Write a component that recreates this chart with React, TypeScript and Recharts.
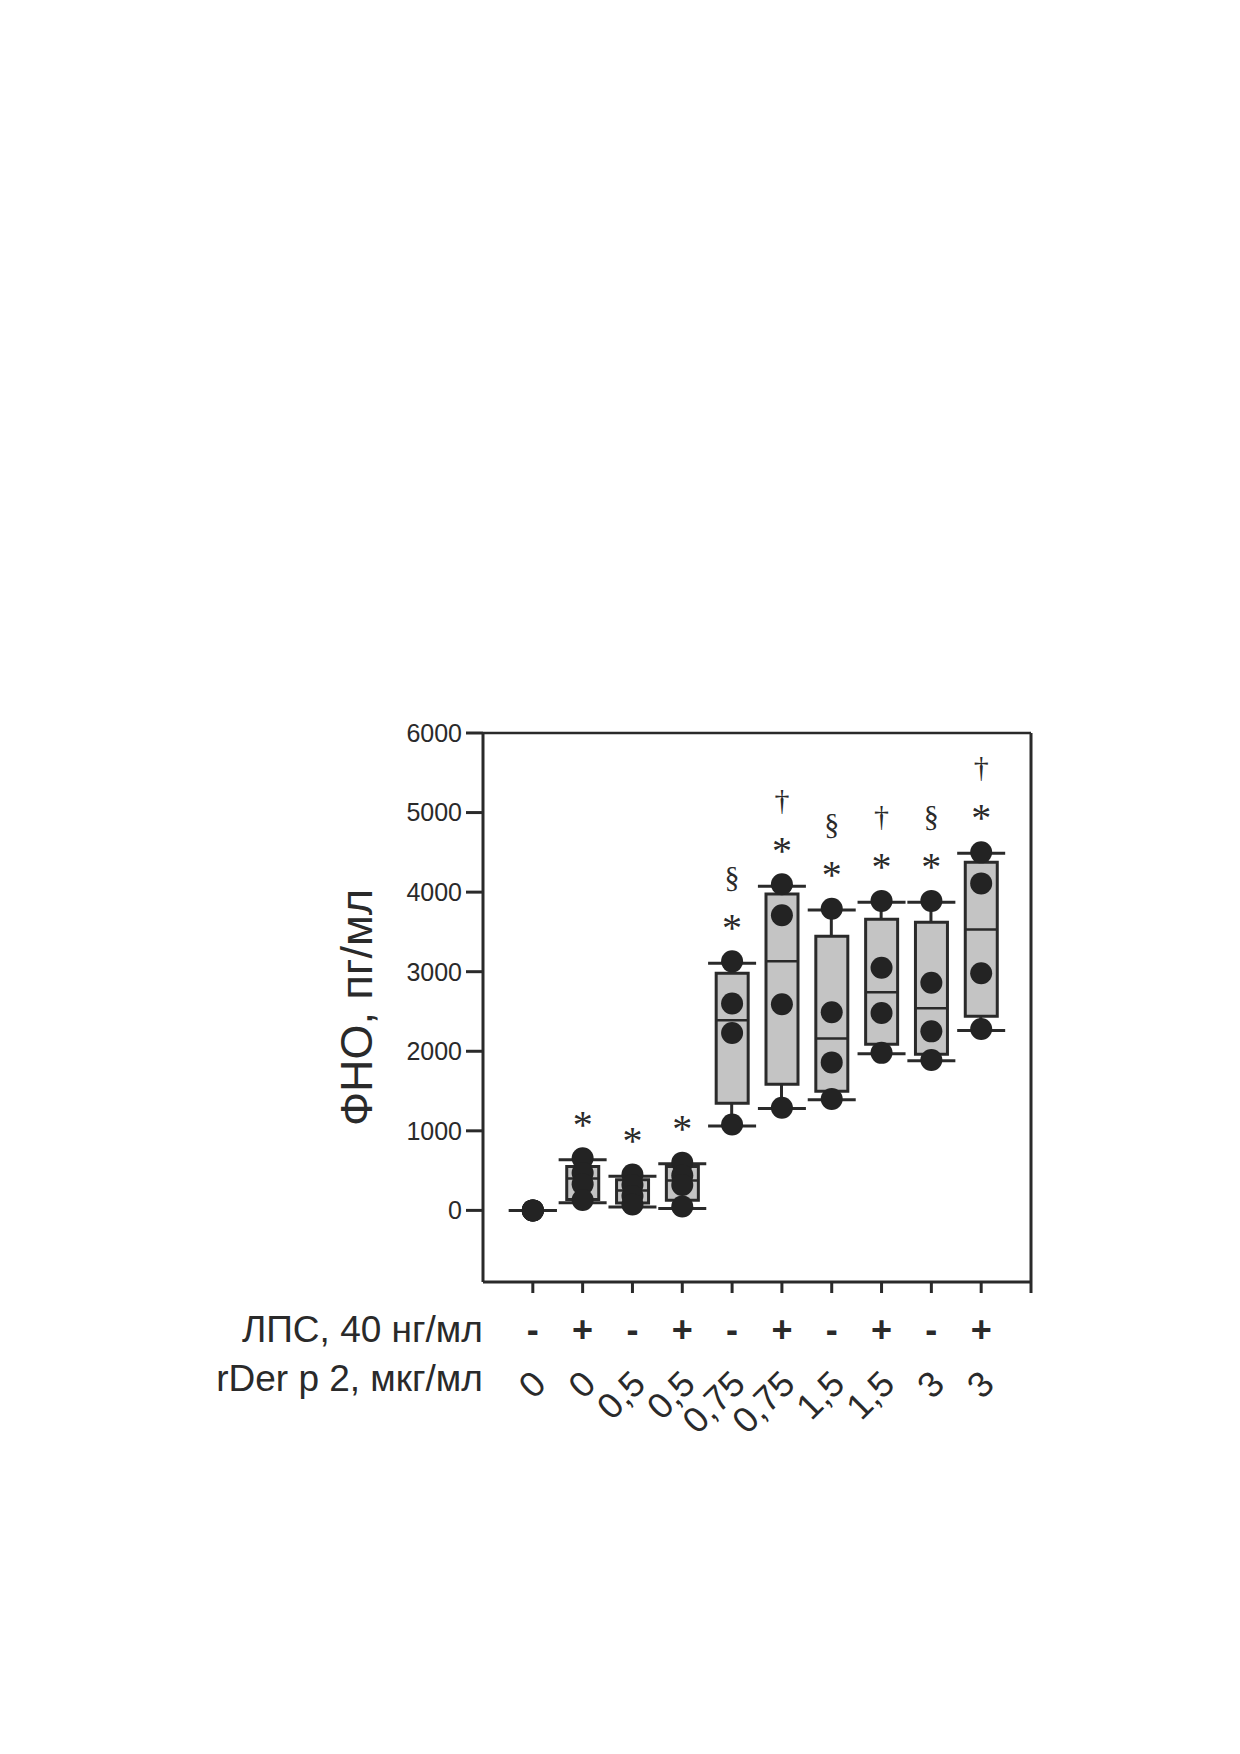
import React from "react";
import { ComposedChart, XAxis, YAxis, Bar, Scatter, ReferenceLine, Label } from "recharts";

// groups along the x axis
const groupPositions = [1, 2, 3, 4, 5, 6, 7, 8, 9, 10];
const lpsSigns = ["-", "+", "-", "+", "-", "+", "-", "+", "-", "+"];
const derDoses = ["0", "0", "0,5", "0,5", "0,75", "0,75", "1,5", "1,5", "3", "3"];

// box stats, pg/ml
const mins = [0, 97, 42, 25, 1060, 1280, 1390, 1970, 1880, 2260];
const q1s = [0, 138, 92, 126, 1346, 1585, 1497, 2088, 1962, 2440];
const medians = [0, 400, 250, 377, 2390, 3130, 2160, 2742, 2540, 3530];
const q3s = [0, 553, 386, 553, 2981, 3975, 3447, 3660, 3623, 4377];
const maxs = [0, 638, 428, 587, 3107, 4075, 3774, 3874, 3874, 4490];

// individual donors
const dotValues = [
  [0, 0, 0, 0],
  [655, 470, 330, 130],
  [450, 320, 180, 75],
  [600, 440, 320, 50],
  [3130, 2600, 2230, 1080],
  [4100, 3710, 2590, 1290],
  [3790, 2490, 1860, 1400],
  [3890, 3050, 2480, 1980],
  [3890, 2860, 2250, 1890],
  [4500, 4110, 2980, 2280],
];

const starMarks = ["", "*", "*", "*", "*", "*", "*", "*", "*", "*"];
const topMarks = ["", "", "", "", "§", "†", "§", "†", "§", "†"];

const yTicks = [0, 1000, 2000, 3000, 4000, 5000, 6000];
const xTicks = [1, 2, 3, 4, 5, 6, 7, 8, 9, 10, 11];

const INK = "#2a2a2a";
const BOX_FILL = "#c4c4c4";
const SANS = "'Liberation Sans', Arial, sans-serif";
const SERIF = "'Liberation Serif', 'Times New Roman', serif";

const boxData = groupPositions.map((pos, i) => ({
  pos,
  min: mins[i],
  q1: q1s[i],
  median: medians[i],
  q3: q3s[i],
  max: maxs[i],
  star: starMarks[i],
  mark: topMarks[i],
}));

const dotData = dotValues.flatMap((vals, i) =>
  vals.map((value) => ({ pos: groupPositions[i], value }))
);

const CapShape = (props: any) => {
  const { cx, cy } = props;
  return <line x1={cx - 24} x2={cx + 24} y1={cy} y2={cy} stroke={INK} strokeWidth={3} />;
};

const TopCapShape = (props: any) => {
  const { cx, cy, payload } = props;
  return (
    <g>
      <line x1={cx - 24} x2={cx + 24} y1={cy} y2={cy} stroke={INK} strokeWidth={3} />
      {payload.star ? (
        <text x={cx} y={cy - 22} textAnchor="middle" fontFamily={SERIF} fontSize={40} fill={INK}>
          {payload.star}
        </text>
      ) : null}
      {payload.mark ? (
        <text x={cx} y={cy - 76} textAnchor="middle" fontFamily={SERIF} fontSize={30} fill={INK}>
          {payload.mark}
        </text>
      ) : null}
    </g>
  );
};

const MedianShape = (props: any) => {
  const { cx, cy } = props;
  return <line x1={cx - 16} x2={cx + 16} y1={cy} y2={cy} stroke={INK} strokeWidth={2.5} />;
};

const DotShape = (props: any) => {
  const { cx, cy } = props;
  return <circle cx={cx} cy={cy} r={11} fill="#232323" />;
};

const DoseTick = (props: any) => {
  const { x, y, payload } = props;
  const i = groupPositions.indexOf(payload.value);
  if (i < 0) return null;
  return (
    <g fontFamily={SANS} fill={INK}>
      {i === 0 && (
        <>
          <text x={x - 50} y={y + 49} textAnchor="end" fontSize={37}>
            ЛПС, 40 нг/мл
          </text>
          <text x={x - 50} y={y + 98} textAnchor="end" fontSize={37}>
            rDer p 2, мкг/мл
          </text>
        </>
      )}
      <text x={x} y={y + 49} textAnchor="middle" fontSize={36} fontWeight="bold">
        {lpsSigns[i]}
      </text>
      <text
        x={x + 15}
        y={y + 93}
        textAnchor="end"
        fontSize={36}
        transform={`rotate(-45 ${x + 15} ${y + 93})`}
      >
        {derDoses[i]}
      </text>
    </g>
  );
};

const YTitle = (props: any) => {
  const vb = props.viewBox || {};
  const bx = vb.x + vb.width - 111;
  const cy = vb.y + vb.height / 2;
  return (
    <text
      x={bx}
      y={cy}
      textAnchor="middle"
      fontFamily={SANS}
      fontSize={45}
      fill={INK}
      transform={`rotate(-90 ${bx} ${cy})`}
    >
      ФНО, пг/мл
    </text>
  );
};

export default function App() {
  return (
    <div style={{ position: "absolute", left: 0, top: 0 }}>
      <ComposedChart
        width={1240}
        height={1500}
        data={boxData}
        margin={{ top: 733, right: 209, bottom: 58, left: 343 }}
      >
        <XAxis
          xAxisId="main"
          dataKey="pos"
          type="number"
          domain={[0, 11]}
          ticks={xTicks}
          allowDataOverflow
          interval={0}
          height={160}
          tickSize={11}
          tickMargin={0}
          axisLine={{ stroke: INK, strokeWidth: 3 }}
          tickLine={{ stroke: INK, strokeWidth: 3 }}
          tick={<DoseTick />}
        />
        <XAxis
          xAxisId="box"
          orientation="top"
          height={0}
          dataKey="pos"
          type="number"
          domain={[0, 11]}
          allowDataOverflow
          hide
        />
        <XAxis
          xAxisId="wh"
          orientation="top"
          height={0}
          dataKey="pos"
          type="number"
          domain={[0, 11]}
          allowDataOverflow
          hide
        />
        <YAxis
          type="number"
          domain={[-900, 6000]}
          ticks={yTicks}
          allowDataOverflow
          width={140}
          tickSize={17}
          tickMargin={4}
          axisLine={{ stroke: INK, strokeWidth: 3 }}
          tickLine={{ stroke: INK, strokeWidth: 3 }}
          tick={{ fill: INK, fontSize: 25, fontFamily: SANS }}
        >
          <Label content={YTitle} />
        </YAxis>
        <ReferenceLine xAxisId="main" y={6000} stroke={INK} strokeWidth={2.5} />
        <ReferenceLine xAxisId="main" x={11} stroke={INK} strokeWidth={3} />
        <Bar
          xAxisId="wh"
          dataKey={(d: any) => [d.min, d.max]}
          barSize={3}
          fill={INK}
          isAnimationActive={false}
        />
        <Bar
          xAxisId="box"
          dataKey={(d: any) => [d.q1, d.q3]}
          barSize={32}
          fill={BOX_FILL}
          stroke={INK}
          strokeWidth={3}
          isAnimationActive={false}
        />
        <Scatter xAxisId="main" dataKey="max" shape={TopCapShape} isAnimationActive={false} />
        <Scatter xAxisId="main" dataKey="min" shape={CapShape} isAnimationActive={false} />
        <Scatter xAxisId="main" dataKey="median" shape={MedianShape} isAnimationActive={false} />
        <Scatter xAxisId="main" data={dotData} dataKey="value" shape={DotShape} isAnimationActive={false} />
      </ComposedChart>
    </div>
  );
}
